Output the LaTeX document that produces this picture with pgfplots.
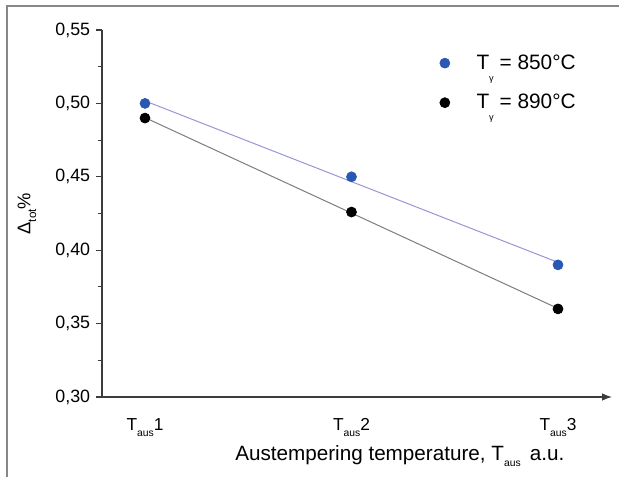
\documentclass[border=0pt]{standalone}
\usepackage{pgfplots}
\pgfplotsset{compat=1.18}
\usepackage{fontspec}
\setmainfont{Liberation Sans}
\usetikzlibrary{arrows.meta}
\definecolor{ptblue}{RGB}{40,88,178}
\definecolor{lnblue}{RGB}{150,150,215}
\definecolor{lngray}{RGB}{125,125,125}
\definecolor{axgray}{RGB}{60,60,60}
\definecolor{framegray}{RGB}{135,135,135}
\newcommand{\sub}[1]{\raisebox{-0.6ex}{\fontsize{6.2}{6.2}\selectfont #1}}
\newcommand{\gsub}{\raisebox{-1.1ex}{\fontsize{5.5}{5.5}\selectfont γ}}
\begin{document}
\begin{tikzpicture}
\useasboundingbox (0,0) rectangle (371.4pt,286.2pt);
\draw[framegray, line width=1.2pt] (4.2pt,0) -- (4.2pt,282.6pt) -- (371.4pt,282.6pt);
\begin{axis}[
  at={(61.2pt,48pt)}, anchor=south west,
  scale only axis, width=306pt, height=220.2pt,
  xmin=0.7918, xmax=3.2615, ymin=0.30, ymax=0.55,
  clip=false,
  axis lines=left,
  axis line style={axgray, line width=0.7pt},
  x axis line style={-{Latex[length=6pt,width=4.5pt]}},
  y axis line style={-},
  xtick={1,2,3},
  xticklabels={T\sub{aus}1, T\sub{aus}2, T\sub{aus}3},
  major x tick style={draw=none},
  ytick={0.30,0.35,0.40,0.45,0.50,0.55},
  minor y tick num=1,
  tick align=outside,
  major tick length=3.6pt, minor tick length=2.6pt,
  tick style={axgray, line width=0.7pt},
  y tick label style={/pgf/number format/.cd, fixed, fixed zerofill, precision=2, use comma, assume math mode=true, /tikz/.cd, font=\fontsize{10.7}{12}\selectfont},
  x tick label style={font=\fontsize{10.4}{12}\selectfont, yshift=-6pt},
  xlabel={Austempering temperature, T\sub{aus} \,a.u.},
  xlabel style={at={(axis description cs:0.584,0)}, anchor=base, yshift=-37.8pt, font=\fontsize{12.4}{14}\selectfont},
  ylabel={Δ\raisebox{-0.6ex}{\fontsize{7}{7}\selectfont tot}\%},
  ylabel style={at={(axis description cs:-0.147,0.5)}, anchor=center, font=\fontsize{11}{13}\selectfont},
  legend style={draw=none, fill=none, at={(axis description cs:0.652,0.952)}, anchor=north west, row sep=9.5pt, font=\fontsize{12.5}{14}\selectfont, /tikz/every odd column/.append style={column sep=14pt}},
  legend cell align=left,
]
\addplot[lnblue, line width=0.6pt, forget plot] coordinates {(1,0.5017) (3,0.3917)};
\addplot[lngray, line width=0.6pt, forget plot] coordinates {(1,0.4903) (3,0.3603)};
\addplot[only marks, mark=*, mark size=3pt, color=ptblue, mark options={draw=ptblue, fill=ptblue}] coordinates {(1,0.50) (2,0.45) (3,0.39)};
\addlegendentry{T\gsub\ = 850°C}
\addplot[only marks, mark=*, mark size=3pt, color=black, mark options={draw=black, fill=black}] coordinates {(1,0.49) (2,0.426) (3,0.36)};
\addlegendentry{T\gsub\ = 890°C}
\end{axis}
\end{tikzpicture}
\end{document}
